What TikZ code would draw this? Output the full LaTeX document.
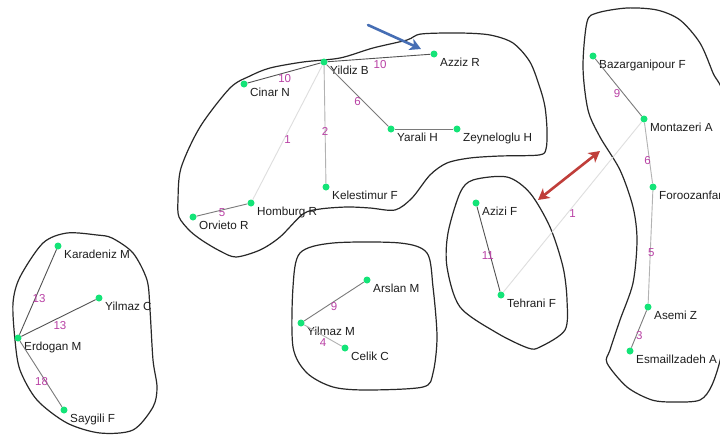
\documentclass[tikz,border=0pt]{standalone}
\usepackage{fontspec}
\setmainfont{Liberation Sans}
\usetikzlibrary{arrows.meta}
\definecolor{dotgreen}{RGB}{20,228,120}
\definecolor{edgemag}{RGB}{185,65,165}
\definecolor{outl}{RGB}{40,40,40}
\definecolor{txt}{RGB}{30,30,30}
\definecolor{arrblue}{RGB}{70,110,180}
\definecolor{arrred}{RGB}{192,62,58}
\newcommand\mkperson[3]{%
  \node[dot] (#1) at (#2) {};
  \node[lab] (#1t) at ([xshift=6pt,yshift=-12.5pt]#1.center) {#3};}
\tikzset{
  dot/.style={circle, fill=dotgreen, inner sep=0pt, minimum size=7pt},
  lab/.style={anchor=base west, inner sep=0pt, text=txt, font=\fontsize{11.7}{13}\selectfont},
  elab/.style={inner sep=0pt, text=edgemag, font=\fontsize{11.5}{13}\selectfont},
  blob/.style={draw=outl, line width=1.2pt, line join=round},
  link/.style={line width=0.9pt},
  dark/.style={link, draw=black!68},
  mid/.style={link, draw=black!52},
  light/.style={link, draw=black!30},
  faint/.style={link, draw=black!13},
  bigarrow/.style={line width=2.6pt, line cap=round}
}
\begin{document}
\begin{tikzpicture}[x=1pt,y=-1pt]
\useasboundingbox (0,0) rectangle (720,434);
\fill[white] (0,0) rectangle (720,434);
\clip (0,0) rectangle (720,434);

% ---------- outlines ----------
\draw[blob] plot[smooth cycle, tension=0.5] coordinates {
  (178,200) (181,168) (200,127) (230,88) (250,76) (270,68) (303,62) (340,58)
  (373,48) (407,40) (421,34) (460,33) (490,35) (513,43) (530,62) (540,88)
  (545,107) (547,130) (546,149) (539,155) (500,156) (470,158) (447,163)
  (430,175) (412,198) (395,210) (370,208) (347,207) (320,209) (303,214)
  (280,237) (260,250) (236,257) (220,251) (203,241) (190,231) (179,217)};
\draw[blob] plot[smooth cycle, tension=0.5] coordinates {
  (97,235) (67,233) (43,243) (20,277) (13,303) (15,340) (20,370) (37,400)
  (67,423) (100,433) (133,430) (153,407) (157,387) (153,360) (150,310)
  (147,280) (133,253) (112,238)};
\draw[blob] plot[smooth cycle, tension=0.5] coordinates {
  (300,253) (333,243) (400,243) (427,253) (433,287) (437,337) (433,373)
  (423,387) (367,390) (333,387) (307,373) (293,347) (293,287)};
\draw[blob] plot[smooth cycle, tension=0.5] coordinates {
  (473,180) (507,177) (530,193) (550,227) (563,267) (567,300) (565,330)
  (540,347) (528,348) (497,333) (460,307) (447,267) (448,233) (460,193)};
\draw[blob] plot[smooth cycle, tension=0.5] coordinates {
  (597,13) (627,8) (657,10) (680,20) (700,43) (713,73) (724,100) (728,200)
  (728,300) (722,352) (712,385) (700,400) (675,402) (652,400) (627,387)
  (607,363) (610,350) (620,320) (633,283) (637,240) (633,207) (620,170)
  (600,137) (588,110) (583,67) (587,22)};

% ---------- people ----------
\mkperson{yb}{324,62}{Yildiz B}
\mkperson{az}{434,54}{Azziz R}
\mkperson{cn}{244,84}{Cinar N}
\mkperson{yh}{391,129}{Yarali H}
\mkperson{zh}{457,129}{Zeyneloglu H}
\mkperson{kf}{326,187}{Kelestimur F}
\mkperson{hr}{251,203}{Homburg R}
\mkperson{orv}{193,217}{Orvieto R}

\mkperson{ka}{58,246}{Karadeniz M}
\mkperson{yc}{99,298}{Yilmaz C}
\mkperson{er}{18,338}{Erdogan M}
\mkperson{sf}{64,410}{Saygili F}

\mkperson{ar}{367,280}{Arslan M}
\mkperson{ym}{301,323}{Yilmaz M}
\mkperson{cc}{345,348}{Celik C}

\mkperson{azf}{476,203}{Azizi F}
\mkperson{tf}{501,295}{Tehrani F}

\mkperson{bf}{593,56}{Bazarganipour F}
\mkperson{ma}{644,119}{Montazeri A}
\mkperson{ff}{653,187}{Foroozanfar}
\mkperson{asz}{648,307}{Asemi Z}
\mkperson{ea}{630,351}{Esmaillzadeh A}

% ---------- links ----------
\draw[dark] (yb) -- node[elab, pos=0.51, yshift=-7pt] {10} (az);
\draw[dark] (yb) -- node[elab, pos=0.49, yshift=-6pt] {10} (cn);
\draw[mid] (yb) -- node[elab, pos=0.55, xshift=-3pt, yshift=-3pt] {6} (yh);
\draw[mid] (yh) -- (zh);
\draw[light] (yb) -- node[elab, pos=0.56] {2} (kf);
\draw[faint] (yb) -- node[elab, pos=0.55, xshift=3.5pt] {1} (hr);
\draw[mid] (hr) -- node[elab, pos=0.5, yshift=-3pt] {5} (orv);

\draw[dark] (er) -- node[elab, pos=0.42, xshift=4pt] {13} (ka);
\draw[dark] (er) -- node[elab, pos=0.52, yshift=-8pt] {13} (yc);
\draw[mid] (er) -- node[elab, pos=0.61, xshift=-4pt] {18} (sf);

\draw[mid] (ym) -- node[elab, pos=0.5, yshift=-5.5pt] {9} (ar);
\draw[light] (ym) -- node[elab, pos=0.5, yshift=-7.5pt] {4} (cc);

\draw[dark] (azf) -- node[elab, pos=0.576, xshift=-2.4pt] {11} (tf);
\draw[faint] (tf) -- node[elab, pos=0.5, yshift=-7pt] {1} (ma);

\draw[mid] (bf) -- node[elab, pos=0.6, xshift=-6pt] {9} (ma);
\draw[light] (ma) -- node[elab, pos=0.63, xshift=-2pt] {6} (ff);
\draw[light] (ff) -- node[elab, pos=0.55, xshift=1pt] {5} (asz);
\draw[mid] (asz) -- node[elab, pos=0.68, xshift=3pt] {3} (ea);

% ---------- highlight arrows ----------
\coordinate (b1) at (368,25);
\coordinate (b2) at (421,49);
\draw[bigarrow, arrblue, -{Stealth[length=11pt, width=12pt, inset=3pt]}] (b1) -- (b2);
\coordinate (r1) at (538,200);
\coordinate (r2) at (600,151);
\draw[bigarrow, arrred, {Stealth[length=11pt, width=12pt, inset=3pt]}-{Stealth[length=11pt, width=12pt, inset=3pt]}] (r1) -- (r2);
\end{tikzpicture}
\end{document}
